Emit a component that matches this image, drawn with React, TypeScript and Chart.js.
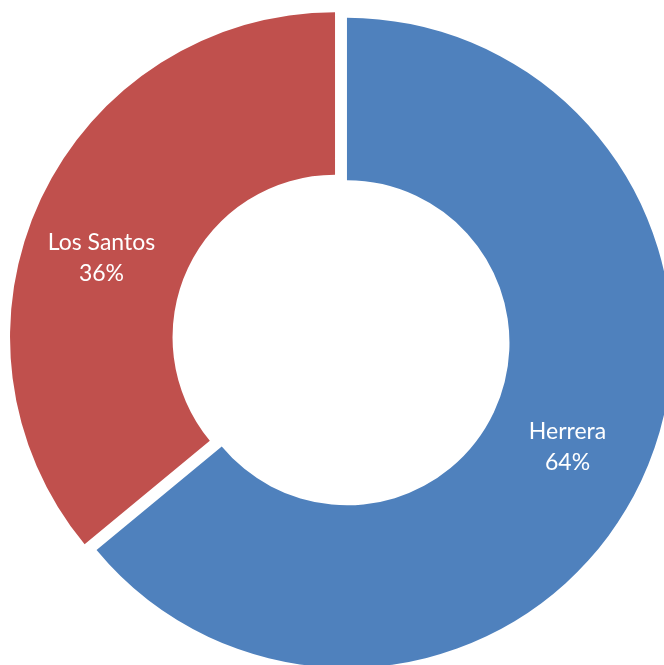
import React, { useEffect, useRef } from "react";
import { Chart, registerables } from "chart.js";

Chart.register(...registerables);

const categories = ["Herrera", "Los Santos"];
const shares = [64, 36];
const percentLabels = ["64%", "36%"];
const colors = ["#4F81BD", "#C0504D"];

const EXPLODE = 6.6;

const explodePlugin = {
  id: "explodeSlices",
  beforeDatasetDraw(chart: any, args: any) {
    const ctx = chart.ctx;
    const meta = args.meta;
    meta.data.forEach((arc: any) => {
      const p = arc.getProps(["startAngle", "endAngle"], true);
      const mid = (p.startAngle + p.endAngle) / 2;
      ctx.save();
      ctx.translate(Math.cos(mid) * EXPLODE, Math.sin(mid) * EXPLODE);
      arc.draw(ctx, chart.chartArea);
      ctx.restore();
    });
    return false;
  },
  afterDatasetsDraw(chart: any) {
    const ctx = chart.ctx;
    const meta = chart.getDatasetMeta(0);
    const nudges = [
      { dx: 0, dy: 0 },
      { dx: -13, dy: 24 },
    ];
    ctx.save();
    ctx.fillStyle = "#FFFFFF";
    ctx.font = "23px Lato";
    ctx.textAlign = "center";
    ctx.textBaseline = "middle";
    meta.data.forEach((arc: any, i: number) => {
      const p = arc.getProps(["x", "y", "startAngle", "endAngle", "innerRadius", "outerRadius"], true);
      const mid = (p.startAngle + p.endAngle) / 2;
      const r = (p.innerRadius + p.outerRadius) / 2;
      const cx = p.x + Math.cos(mid) * (r + EXPLODE) + nudges[i].dx;
      const cy = p.y + Math.sin(mid) * (r + EXPLODE) + nudges[i].dy;
      ctx.fillText(categories[i], cx, cy - 15);
      ctx.fillText(percentLabels[i], cx, cy + 16);
    });
    ctx.restore();
  },
};

export default function App() {
  const ref = useRef<HTMLCanvasElement>(null);
  useEffect(() => {
    if (!ref.current) return;
    const chart = new Chart(ref.current, {
      type: "doughnut",
      data: {
        labels: categories,
        datasets: [
          {
            data: shares,
            backgroundColor: colors,
            borderWidth: 0,
            offset: 0,
            hoverOffset: 0,
          },
        ],
      },
      options: {
        responsive: false,
        animation: false,
        cutout: "50%",
        radius: 325,
        layout: { padding: { left: 18, right: 0, top: 15, bottom: 0 } },
        plugins: {
          legend: { display: false },
          tooltip: { enabled: false },
        },
        events: [],
      },
      plugins: [explodePlugin],
    });
    return () => chart.destroy();
  }, []);
  return (
    <div style={{ position: "absolute", left: 0, top: 0, width: 664, height: 665, background: "#fff" }}>
      <canvas ref={ref} width={664} height={665} style={{ display: "block" }} />
    </div>
  );
}
